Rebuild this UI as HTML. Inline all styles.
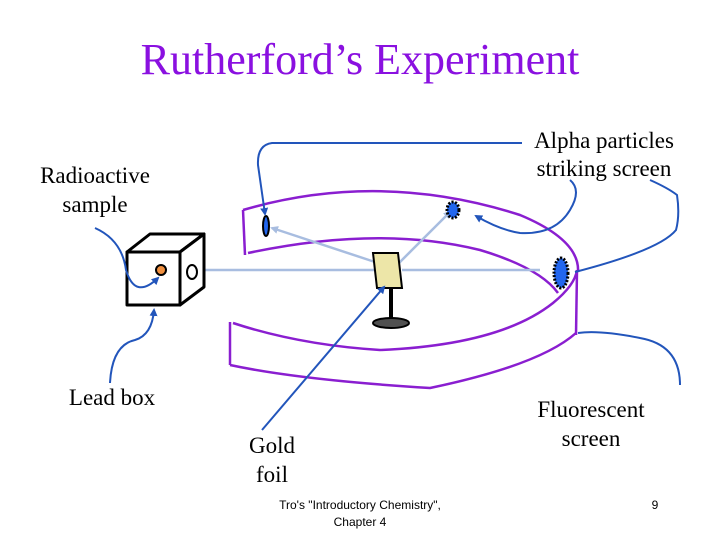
<!DOCTYPE html>
<html><head><style>
html,body{margin:0;padding:0;background:#fff;}
svg{display:block;}
</style></head><body>
<svg width="720" height="540" viewBox="0 0 720 540" xmlns="http://www.w3.org/2000/svg">
<defs>
<marker id="a" markerWidth="8" markerHeight="8" refX="6" refY="4" orient="auto" markerUnits="userSpaceOnUse"><path d="M0,0 L8,4 L0,8 Z" fill="#2255bb"/></marker>
<marker id="b" markerWidth="8" markerHeight="8" refX="6" refY="4" orient="auto" markerUnits="userSpaceOnUse"><path d="M0,0 L8,4 L0,8 Z" fill="#a8bde0"/></marker>
</defs>
<text x="360" y="74" text-anchor="middle" font-family="Liberation Serif,serif" font-size="44" fill="#8a10e0">Rutherford’s Experiment</text>

<g fill="none" stroke="#8a1ed0" stroke-width="2.5">
<path d="M243,210 Q380,170 520,215 Q580,240 578,272"/>
<path d="M243,210 L245,255"/>
<path d="M248,253 Q380,225 480,250 Q540,268 558,293"/>
<path d="M577,270 L576,335"/>
<path d="M230,322 L230,365"/>
<path d="M233,323 Q300,345 380,350 Q500,345 553,303 Q575,285 577,270"/>
<path d="M230,365 Q300,380 430,388 Q540,365 576,333"/>
</g>

<g stroke="#a8bde0" stroke-width="2.5" fill="none">
<line x1="165" y1="270" x2="374" y2="270"/>
<line x1="402" y1="270" x2="540" y2="270"/>
<line x1="378" y1="263" x2="272" y2="228" marker-end="url(#b)"/>
<line x1="398" y1="264" x2="450" y2="212" marker-end="url(#b)"/>
</g>

<g fill="#fff" stroke="#000" stroke-width="3" stroke-linejoin="round">
<path d="M127,252 L150,234 L204,234 L180,252 Z"/>
<path d="M180,252 L204,234 L204,287 L180,305 Z"/>
<rect x="127" y="252" width="53" height="53"/>
</g>
<ellipse cx="192" cy="272" rx="5" ry="7" fill="none" stroke="#000" stroke-width="2"/>
<circle cx="161" cy="270" r="5" fill="#f09040" stroke="#000" stroke-width="2"/>

<polygon points="373,253 398,253 402,288 377,288" fill="#ede6a8" stroke="#000" stroke-width="2"/>
<line x1="391" y1="288" x2="391" y2="320" stroke="#000" stroke-width="4"/>
<ellipse cx="391" cy="323" rx="18" ry="5" fill="#505050" stroke="#000" stroke-width="2"/>

<ellipse cx="266" cy="226" rx="3" ry="10" fill="#2266ee" stroke="#000" stroke-width="2"/>
<ellipse cx="453" cy="210" rx="6" ry="8" fill="#2266ee" stroke="#000" stroke-width="3" stroke-dasharray="2 1.5"/>
<ellipse cx="561" cy="273" rx="7" ry="15" fill="#2266ee" stroke="#000" stroke-width="3" stroke-dasharray="2 1.5"/>

<g fill="none" stroke="#2255bb" stroke-width="2">
<path d="M522,143 L272,143 Q257,145 258,165 L265,214" marker-end="url(#a)"/>
<path d="M570,180 Q582,190 570,210 Q555,235 520,233 Q500,230 476,216" marker-end="url(#a)"/>
<path d="M650,180 Q668,188 677,195 Q680,215 676,230 Q660,250 575,272"/>
<path d="M680,385 Q680,345 640,338 Q600,330 578,333"/>
<path d="M95,228 Q122,240 126,270 Q135,300 158,278" marker-end="url(#a)"/>
<path d="M110,383 Q112,345 135,340 Q152,335 154,310" marker-end="url(#a)"/>
<path d="M262,430 L384,287" marker-end="url(#a)"/>
</g>

<g font-family="Liberation Serif,serif" font-size="23" fill="#000" text-anchor="middle">
<text x="604" y="148">Alpha particles</text>
<text x="604" y="176">striking screen</text>
<text x="95" y="183">Radioactive</text>
<text x="95" y="212">sample</text>
<text x="112" y="405">Lead box</text>
<text x="591" y="417">Fluorescent</text>
<text x="591" y="446">screen</text>
<text x="272" y="453">Gold</text>
<text x="272" y="482">foil</text>
</g>
<g font-family="Liberation Sans,sans-serif" font-size="12" fill="#000" text-anchor="middle">
<text x="360" y="509">Tro's "Introductory Chemistry",</text>
<text x="360" y="526">Chapter 4</text>
<text x="655" y="509">9</text>
</g>
</svg>
</body></html>
